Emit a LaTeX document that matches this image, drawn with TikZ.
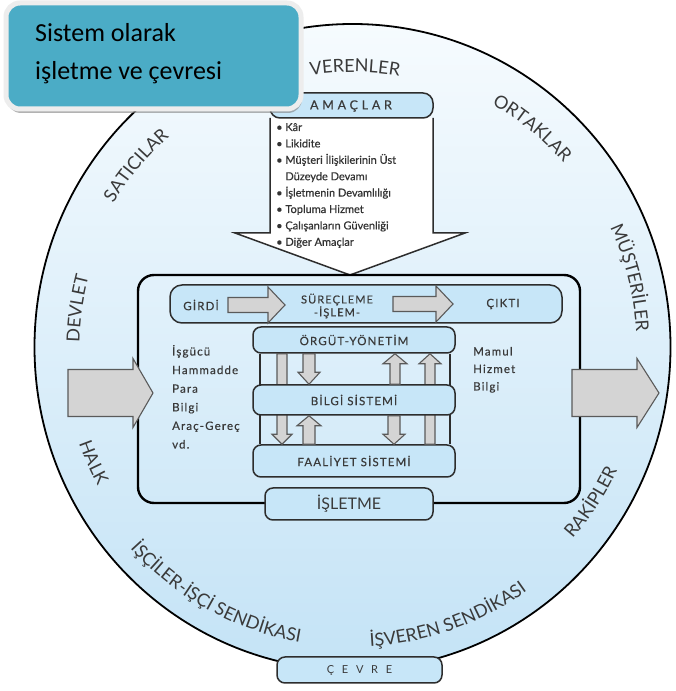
\documentclass[tikz,border=0pt]{standalone}
\usepackage{fontspec}
\setmainfont{Lato}
\newfontfamily\titlefont{Carlito}
\newfontfamily\goalfont[FakeBold=0.6]{Lato}
\newfontfamily\spacedfont[LetterSpace=10,FakeBold=0.4]{Lato}
\newfontfamily\widefont[LetterSpace=30,FakeBold=0.4]{Lato}
\newfontfamily\cevrefont[LetterSpace=45]{Lato}
\usetikzlibrary{calc,shadows,decorations.text}

\newcommand{\ringfont}{\fontsize{18}{20}\selectfont\color{txtgray}}

% fat block arrow: tail, tip, half shaft, half head, head length
\newcommand{\fatarrow}[5]{%
  \coordinate (fa-t) at (#1);
  \coordinate (fa-p) at (#2);
  \coordinate (fa-h) at ($(fa-p)!#5!(fa-t)$);
  \filldraw[fatarr] ($(fa-t)!#3!90:(fa-p)$) -- ($(fa-h)!#3!90:(fa-p)$) -- ($(fa-h)!#4!90:(fa-p)$) -- (fa-p)
    -- ($(fa-h)!#4!-90:(fa-p)$) -- ($(fa-h)!#3!-90:(fa-p)$) -- ($(fa-t)!#3!-90:(fa-p)$) -- cycle;}

\tikzset{
  lbox/.style={draw=boxline, fill=boxblue, line width=1.5pt, rounded corners=8pt},
  boxtext/.style={font=\spacedfont\fontsize{11.5}{12}\selectfont, text=txtgray},
  fatarr/.style={draw=arrline, fill=arrgray, line width=1.1pt},
  listtext/.style={font=\spacedfont\fontsize{11.5}{13}\selectfont, text=txtgray, anchor=base west, inner sep=0pt},
  goaltext/.style={font=\goalfont\fontsize{11}{13}\selectfont, text=black!80, anchor=base west, inner sep=0pt},
  ringtext/.style={decorate, decoration={text along path, text align=center, text={|\ringfont|#1}}},
  titlebox/.style={fill=titleteal, draw=white!93!black, line width=5pt, rounded corners=14pt,
    drop shadow={shadow xshift=1pt, shadow yshift=-4pt, fill=black!50, opacity=0.6}},
  titletext/.style={font=\titlefont\fontsize{26}{30}\selectfont, anchor=base west, inner sep=0pt},
}

\begin{document}
\begin{tikzpicture}[x=1pt,y=1pt]

    % Define colors
    \definecolor{ringtop}{RGB}{246,251,254}
    \definecolor{ringbot}{RGB}{196,227,246}
    \definecolor{boxblue}{RGB}{199,230,248}
    \definecolor{boxline}{RGB}{45,45,45}
    \definecolor{arrgray}{RGB}{212,212,212}
    \definecolor{arrline}{RGB}{90,90,90}
    \definecolor{txtgray}{RGB}{58,58,58}
    \definecolor{titleteal}{RGB}{75,172,198}

    \useasboundingbox (0,0) rectangle (675,691);
    \fill[white] (0,0) rectangle (675,691);

    % environment ring
    \coordinate (cen) at (352.5,344);
    \shade[top color=ringtop, bottom color=ringbot] (cen) ellipse[x radius=318, y radius=323];
    \draw[line width=1.8pt] (cen) ellipse[x radius=318, y radius=323];

    \path[ringtext=VERENLER] (cen) ++(119.5:275) arc[start angle=119.5, end angle=59.5, radius=275];
    \path[ringtext=SATICILAR] (cen) ++(170:279) arc[start angle=170, end angle=110, radius=279];
    \path[ringtext=ORTAKLAR] (cen) ++(80.6:280) arc[start angle=80.6, end angle=20.6, radius=280];
    \path[ringtext=MÜŞTERİLER] (cen) ++(44:284) arc[start angle=44, end angle=-16, radius=284];
    \path[ringtext=DEVLET] (cen) ++(202:273) arc[start angle=202, end angle=142, radius=273];
    \path[ringtext=HALK] (cen) ++(174:290) arc[start angle=174, end angle=234, radius=290];
    \path[ringtext=İŞÇİLER-İŞÇİ SENDİKASI] (cen) ++(201:300) arc[start angle=201, end angle=281, radius=300];
    \path[ringtext=İŞVEREN SENDİKASI] (cen) ++(259.5:300) arc[start angle=259.5, end angle=319.5, radius=300];
    \path[ringtext=RAKİPLER] (cen) ++(297:292) arc[start angle=297, end angle=357, radius=292];

    % goals arrow
    \filldraw[fill=white, draw=boxline, line width=1.5pt] (270,573) -- (270,458) -- (235,458) -- (350,416)
        -- (465,458) -- (433,458) -- (433,573);
    \filldraw[lbox, rounded corners=10pt] (270,573) rectangle (433,598);
    \node[boxtext, font=\widefont\fontsize{12.5}{13}\selectfont] (amac) at (351,585) {AMAÇLAR};
    \foreach \t [count=\i] in {• Kâr, • Likidite, • Müşteri İlişkilerinin Üst, \phantom{•} Düzeyde Devamı,
        • İşletmenin Devamlılığı, • Topluma Hizmet, • Çalışanların Güvenliği, • Diğer Amaçlar}
      \node[goaltext] (goal\i) at (276,{560-16.4*(\i-1)}) {\t};

    % firm
    \node[draw=black, line width=2.4pt, rounded corners=16pt, minimum width=442pt, minimum height=228pt] (sys) at (359,302) {};
    \node[lbox, minimum width=168pt, minimum height=32pt, font=\fontsize{16}{18}\selectfont, text=txtgray] (isl) at (349,187) {İŞLETME};
    \node[lbox, minimum width=165pt, minimum height=26pt, font=\cevrefont\fontsize{11}{12}\selectfont, text=txtgray] (cevre) at (359.5,21) {Ç E V R E};

    \filldraw[lbox, rounded corners=12pt] (170,368) rectangle (562,406);
    \node[boxtext] (girdi) at (201,386) {GİRDİ};
    \node[boxtext, align=center, font=\spacedfont\fontsize{11}{10.5}\selectfont] (surec) at (337,385) {SÜREÇLEME\\-İŞLEM-};
    \node[boxtext] (cikti) at (503,387) {ÇIKTI};
    \fatarrow{girdi -| 228,0}{girdi -| 285,0}{7.5pt}{18pt}{17pt}
    \fatarrow{cikti -| 393,0}{cikti -| 453,0}{7.5pt}{18pt}{17pt}

    \node[lbox, boxtext, minimum width=202pt, minimum height=26pt] (org) at (354,351) {ÖRGÜT-YÖNETİM};
    \node[lbox, boxtext, minimum width=202pt, minimum height=32pt] (faal) at (354,230) {FAALİYET SİSTEMİ};
    \foreach \x in {260,450}
      \draw[line width=1.2pt, boxline] (org.south -| \x,0) -- (faal.north -| \x,0);
    \fatarrow{org.south -| 282,0}{faal.north -| 282,0}{5pt}{10pt}{10pt}
    \fatarrow{faal.north -| 430,0}{org.south -| 430,0}{5pt}{11pt}{10pt}
    \node[lbox, boxtext, minimum width=202pt, minimum height=30pt] (bilgi) at (354,291) {BİLGİ SİSTEMİ};
    \fatarrow{org.south -| 309,0}{bilgi.north -| 309,0}{6pt}{11pt}{12pt}
    \fatarrow{faal.north -| 309,0}{bilgi.south -| 309,0}{6pt}{12pt}{10pt}
    \fatarrow{bilgi.north -| 395,0}{org.south -| 395,0}{5pt}{12pt}{10pt}
    \fatarrow{bilgi.south -| 394,0}{faal.north -| 394,0}{6pt}{11pt}{10pt}

    \foreach \t [count=\i] in {İşgücü,Hammadde,Para,Bilgi,Araç-Gereç,vd.}
      \node[listtext] (in\i) at (172,{335.5-18.6*(\i-1)}) {\t};
    \foreach \t [count=\i] in {Mamul,Hizmet,Bilgi}
      \node[listtext] (out\i) at (473,{335.5-17.5*(\i-1)}) {\t};

    % inputs and outputs
    \coordinate (inA) at (68,298);
    \coordinate (outA) at (572,298);
    \fatarrow{inA}{inA -| 153,0}{23.5pt}{34.5pt}{20pt}
    \fatarrow{outA}{outA -| 659,0}{23.5pt}{34.5pt}{22pt}

    % title
    \filldraw[titlebox] (6,582) rectangle (301,688);
    \node[titletext] (title1) at (35,649) {Sistem olarak};
    \node[titletext] (title2) at (35,611) {işletme ve çevresi};

\end{tikzpicture}
\end{document}
